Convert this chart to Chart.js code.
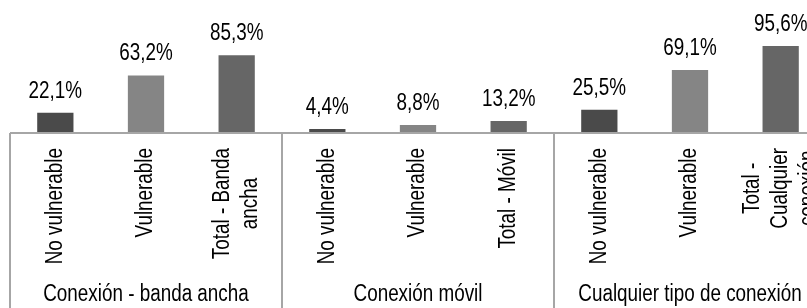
<!DOCTYPE html>
<html>
<head>
<meta charset="utf-8">
<script src="https://cdn.jsdelivr.net/npm/chart.js@4"></script>
<style>
  html, body { margin: 0; padding: 0; background: #fff; overflow: hidden; }
  #wrap { width: 826px; height: 308px; }
</style>
</head>
<body>
<div id="wrap"><canvas id="chart"></canvas></div>
<script>
// data
var categories = [
    ['No vulnerable'], ['Vulnerable'], ['Total - Banda', 'ancha'],
    ['No vulnerable'], ['Vulnerable'], ['Total - Móvil'],
    ['No vulnerable'], ['Vulnerable'], ['Total -', 'Cualquier', 'conexión']
];
var groups = ['Conexión - banda ancha', 'Conexión móvil', 'Cualquier tipo de conexión'];
var values = [22.1, 63.2, 85.3, 4.4, 8.8, 13.2, 25.5, 69.1, 95.6];
var barColors = ['#4a4a4a', '#858585', '#666666'];

var fontName = '"Liberation Sans", Arial, sans-serif';
var narrow = 0.82;   // no narrow face installed, so squeeze the regular one
var lineColor = '#a6a6a6';

function narrowText(ctx, txt, x, y) {
    ctx.save();
    ctx.translate(x, y);
    ctx.scale(narrow, 1);
    ctx.fillText(txt, 0, 0);
    ctx.restore();
}

// draws the label table below the axis, plus value labels above bars
var tablePlugin = {
    id: 'tablePlugin',
    afterDraw: function(chart) {
        var ctx = chart.ctx;
        var xs = chart.scales.x;
        var area = chart.chartArea;
        var step = xs.getPixelForValue(1) - xs.getPixelForValue(0);
        var bottom = chart.height;

        ctx.save();
        ctx.strokeStyle = lineColor;
        ctx.lineWidth = 2;
        // axis line
        ctx.beginPath();
        ctx.moveTo(area.left, area.bottom);
        ctx.lineTo(area.right, area.bottom);
        ctx.stroke();
        // group separators
        for (var g = 0; g <= groups.length; g++) {
            var gx = xs.getPixelForValue(g * 3) - step / 2;
            ctx.beginPath();
            ctx.moveTo(gx, area.bottom);
            ctx.lineTo(gx, bottom);
            ctx.stroke();
        }

        ctx.fillStyle = '#000';
        ctx.font = '23px ' + fontName;

        // value labels
        var meta = chart.getDatasetMeta(0);
        ctx.textAlign = 'center';
        ctx.textBaseline = 'alphabetic';
        meta.data.forEach(function(bar, i) {
            var txt = values[i].toFixed(1).replace('.', ',') + '%';
            narrowText(ctx, txt, bar.x, bar.y - 15);
        });

        // rotated category labels
        var lineH = 28;
        categories.forEach(function(lines, i) {
            var cx = xs.getPixelForValue(i);
            var maxW = 0;
            lines.forEach(function(l) { maxW = Math.max(maxW, ctx.measureText(l).width * narrow); });
            ctx.save();
            ctx.translate(cx, area.bottom + 15 + maxW / 2);
            ctx.rotate(-Math.PI / 2);
            ctx.textAlign = 'center';
            ctx.textBaseline = 'middle';
            lines.forEach(function(l, k) {
                var off = (k - (lines.length - 1) / 2) * lineH;
                narrowText(ctx, l, 0, off);
            });
            ctx.restore();
        });

        // group labels
        ctx.textAlign = 'center';
        ctx.textBaseline = 'middle';
        groups.forEach(function(name, g) {
            var gx = xs.getPixelForValue(g * 3 + 1);
            narrowText(ctx, name, gx, 295);
        });
        ctx.restore();
    }
};

var chart = new Chart(document.getElementById('chart'), {
    type: 'bar',
    data: {
        labels: categories.map(function(c) { return c.join(' '); }),
        datasets: [{
            data: values,
            backgroundColor: values.map(function(v, i) { return barColors[i % 3]; }),
            barPercentage: 0.4,
            categoryPercentage: 1.0
        }]
    },
    options: {
        responsive: true,
        maintainAspectRatio: false,
        animation: false,
        layout: { padding: { left: 10, right: 0, top: 0, bottom: 175 } },
        plugins: {
            legend: { display: false },
            tooltip: { enabled: false }
        },
        scales: {
            x: { display: false },
            y: { display: false, min: 0, max: 146 }
        }
    },
    plugins: [tablePlugin]
});
</script>
</body>
</html>
